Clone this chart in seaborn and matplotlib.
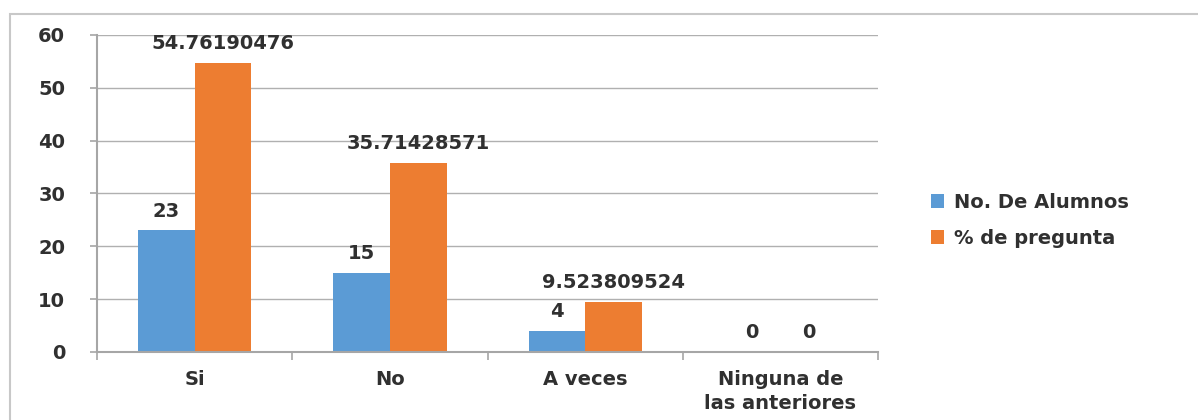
import matplotlib
matplotlib.use("Agg")
import matplotlib.pyplot as plt
import seaborn as sns
import pandas as pd
from matplotlib.patches import Rectangle
from matplotlib.ticker import MultipleLocator, FixedLocator

categories = ["Si", "No", "A veces", "Ninguna de\nlas anteriores"]
series_names = ["No. De Alumnos", "% de pregunta"]
alumnos = [23, 15, 4, 0]
porcentaje = [54.76190476, 35.71428571, 9.523809524, 0]
colors = ["#5B9BD5", "#ED7D31"]

df = pd.DataFrame({
    "cat": categories * 2,
    "serie": [series_names[0]] * 4 + [series_names[1]] * 4,
    "valor": alumnos + porcentaje,
})

sns.set_theme(style="white")
plt.rcParams["font.family"] = ["DejaVu Sans"]

TXT = "#303030"
FS = 14
FW = "bold"

fig = plt.figure(figsize=(11.98, 4.2), dpi=100)
ax = fig.add_axes([0.081, 0.162, 0.652, 0.755])

sns.barplot(data=df, x="cat", y="valor", hue="serie", order=categories,
            hue_order=series_names, palette=colors, width=0.58, gap=0,
            saturation=1, ax=ax, legend=True, linewidth=0, edgecolor="none")

for cont in ax.containers:
    ax.bar_label(cont, fmt="%.10g", padding=7, fontsize=FS, color=TXT,
                 fontweight=FW)

ax.set_ylim(0, 60)
ax.set_xlim(-0.5, 3.5)
ax.yaxis.set_major_locator(MultipleLocator(10))
ax.grid(axis="y", color="#b0b0b0", linewidth=1)
ax.set_axisbelow(True)
ax.set_xlabel("")
ax.set_ylabel("")
for s in ["top", "right"]:
    ax.spines[s].set_visible(False)
for s in ["left", "bottom"]:
    ax.spines[s].set_color("#a6a6a6")
    ax.spines[s].set_linewidth(1.5)

ax.tick_params(axis="y", length=5, width=1.2, color="#a6a6a6", labelsize=FS,
               labelcolor=TXT, pad=18, left=True)
ax.tick_params(axis="x", which="major", length=0, labelsize=FS,
               labelcolor=TXT, pad=13)
ax.xaxis.set_minor_locator(FixedLocator([-0.5, 0.5, 1.5, 2.5, 3.5]))
ax.tick_params(axis="x", which="minor", length=6, width=1.2, color="#a6a6a6", bottom=True)
for lbl in ax.get_xticklabels() + ax.get_yticklabels():
    lbl.set_fontweight(FW)
for lbl in ax.get_xticklabels():
    lbl.set_linespacing(1.3)

leg = ax.legend(loc="center left", bbox_to_anchor=(1.045, 0.415), frameon=False,
                prop={"size": FS, "weight": FW}, handlelength=0.7, handleheight=0.7,
                handletextpad=0.5, labelspacing=0.85)
for t in leg.get_texts():
    t.set_color(TXT)

fig.patches.append(Rectangle((10 / 1198, -0.05), 1.2, 1 - 14 / 420 + 0.05,
                             transform=fig.transFigure, fill=False,
                             edgecolor="#c8c8c8", linewidth=1.5, zorder=0))

fig.savefig("out.png", dpi=100)
